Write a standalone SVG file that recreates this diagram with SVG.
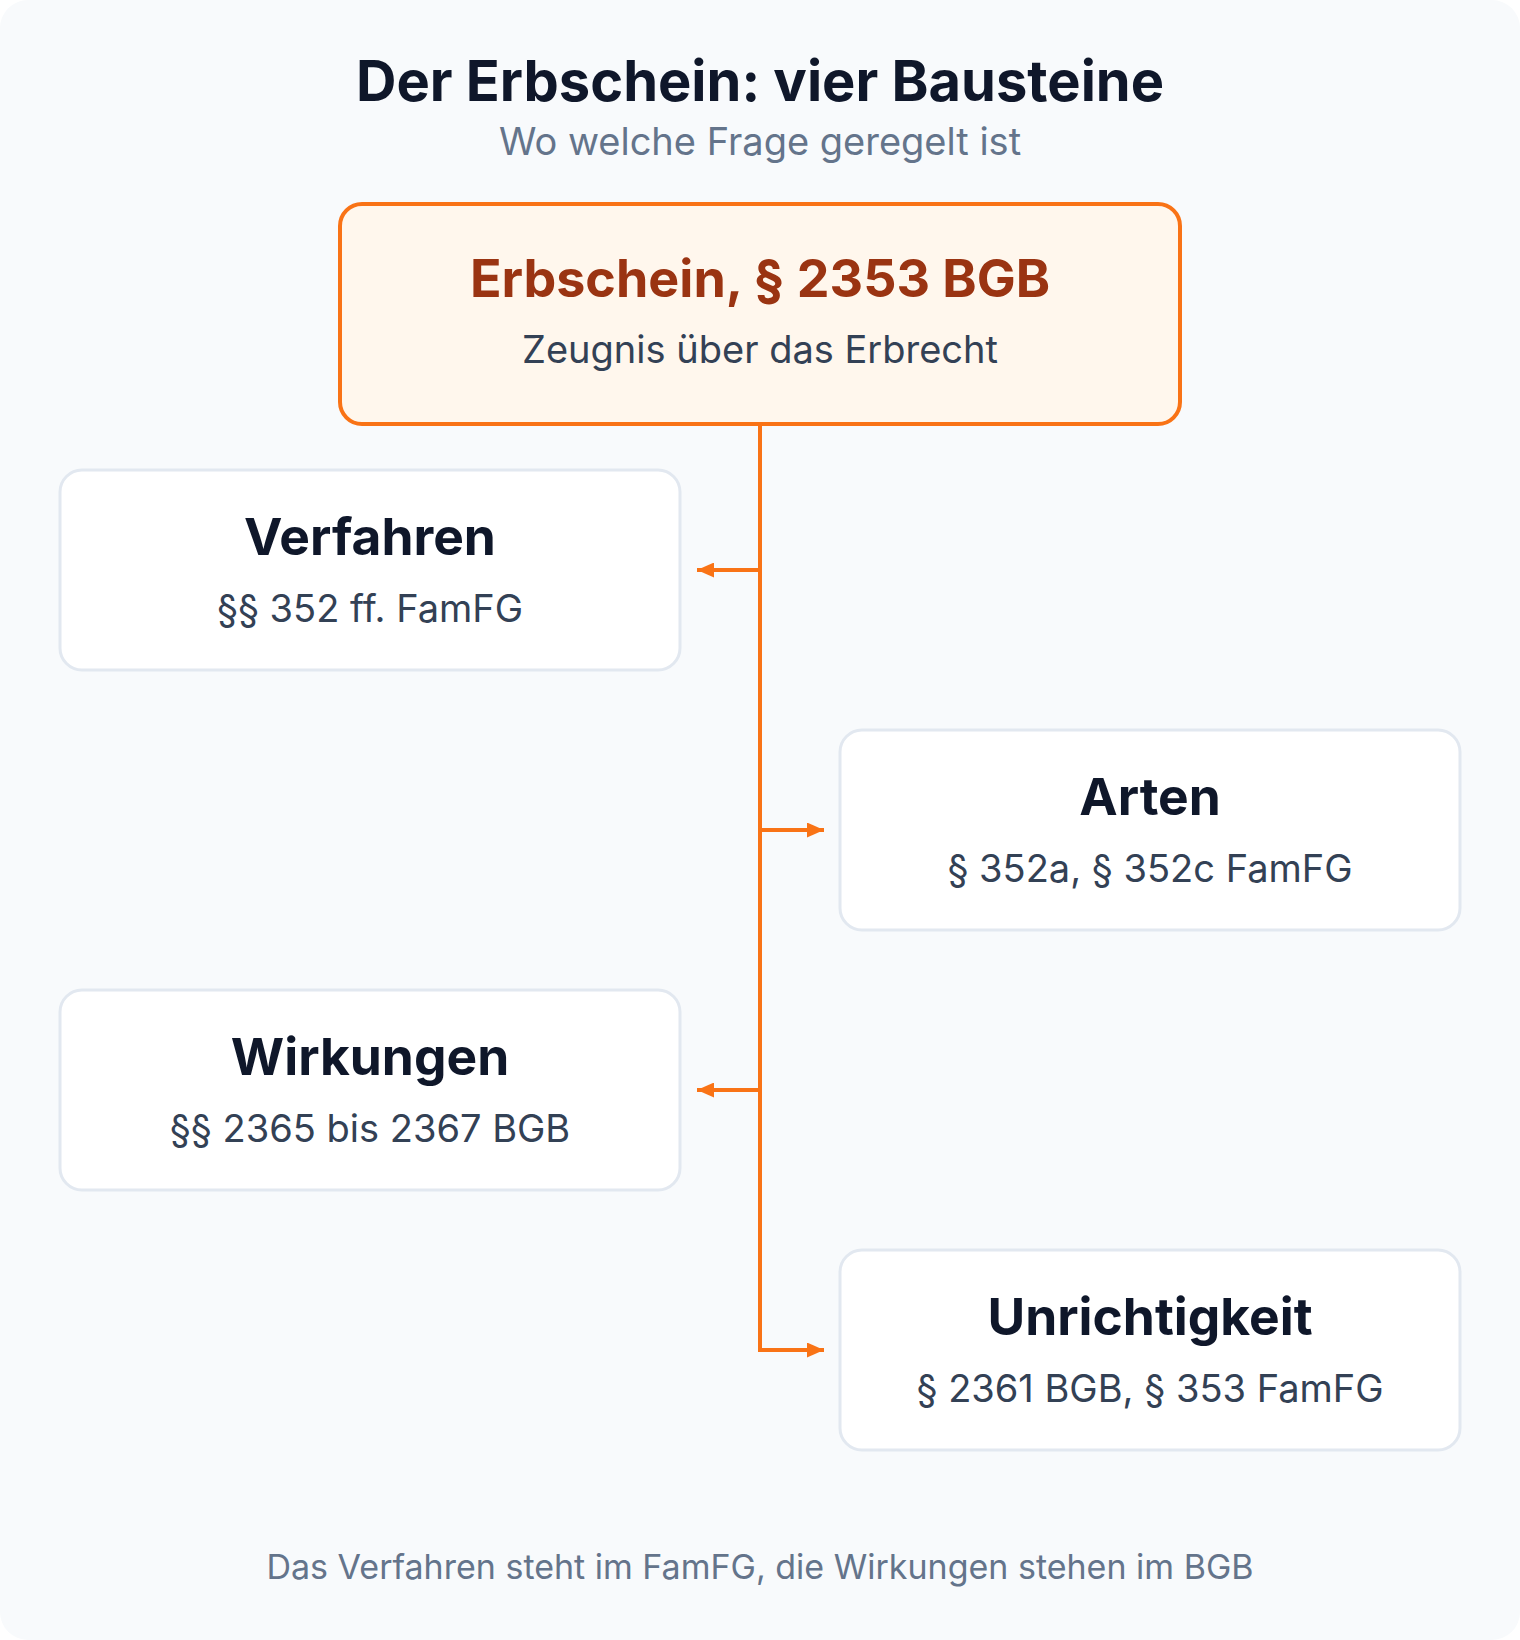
<svg xmlns="http://www.w3.org/2000/svg" width="1520" height="1640" viewBox="0 0 1520 1640">
<defs>
<style>
text{font-family:Inter,"Noto Sans","DejaVu Sans",sans-serif;text-anchor:middle}
.title{font-size:56px;font-weight:700;fill:#0f172a}
.subtitle{font-size:38px;fill:#64748b}
.root-box{fill:#fff7ed;stroke:#f97316;stroke-width:4}
.root-title{font-size:52px;font-weight:700;fill:#9a3412}
.root-sub{font-size:38px;fill:#334155}
.box{fill:#ffffff;stroke:#e2e8f0;stroke-width:3}
.ntitle{font-size:51.5px;font-weight:700;fill:#0f172a}
.nsub{font-size:38px;fill:#334155}
.footer{font-size:34px;fill:#64748b}
.conn{fill:none;stroke:#f97316;stroke-width:4}
</style>
<marker id="arr" viewBox="0 0 17 15" refX="17" refY="7.5" markerWidth="17" markerHeight="15" markerUnits="userSpaceOnUse" orient="auto">
<path d="M0,0 L17,7.5 L0,15 Z" fill="#f97316"/>
</marker>
</defs>
<rect x="0" y="0" width="1520" height="1640" fill="#ffffff"/>
<rect x="0" y="0" width="1520" height="1640" rx="28" fill="#f8fafc"/>
<text class="title" x="760" y="101">Der Erbschein: vier Bausteine</text>
<text class="subtitle" x="760" y="155">Wo welche Frage geregelt ist</text>
<g id="connectors">
<path class="conn" d="M760,425 L760,1350"/>
<path class="conn" d="M760,570 L697,570" marker-end="url(#arr)"/>
<path class="conn" d="M760,830 L824,830" marker-end="url(#arr)"/>
<path class="conn" d="M760,1090 L697,1090" marker-end="url(#arr)"/>
<path class="conn" d="M758,1350 L824,1350" marker-end="url(#arr)"/>
</g>
<g id="erbschein">
<rect class="root-box" x="340" y="204" width="840" height="220" rx="22"/>
<text class="root-title" x="760" y="297">Erbschein, § 2353 BGB</text>
<text class="root-sub" x="760" y="363">Zeugnis über das Erbrecht</text>
</g>
<g id="verfahren">
<rect class="box" x="60" y="470" width="620" height="200" rx="22"/>
<text class="ntitle" x="370" y="555">Verfahren</text>
<text class="nsub" x="370" y="622">§§ 352 ff. FamFG</text>
</g>
<g id="arten">
<rect class="box" x="840" y="730" width="620" height="200" rx="22"/>
<text class="ntitle" x="1150" y="815">Arten</text>
<text class="nsub" x="1150" y="882">§ 352a, § 352c FamFG</text>
</g>
<g id="wirkungen">
<rect class="box" x="60" y="990" width="620" height="200" rx="22"/>
<text class="ntitle" x="370" y="1075">Wirkungen</text>
<text class="nsub" x="370" y="1142">§§ 2365 bis 2367 BGB</text>
</g>
<g id="unrichtigkeit">
<rect class="box" x="840" y="1250" width="620" height="200" rx="22"/>
<text class="ntitle" x="1150" y="1335">Unrichtigkeit</text>
<text class="nsub" x="1150" y="1402">§ 2361 BGB, § 353 FamFG</text>
</g>
<text class="footer" x="760" y="1579">Das Verfahren steht im FamFG, die Wirkungen stehen im BGB</text>
</svg>
